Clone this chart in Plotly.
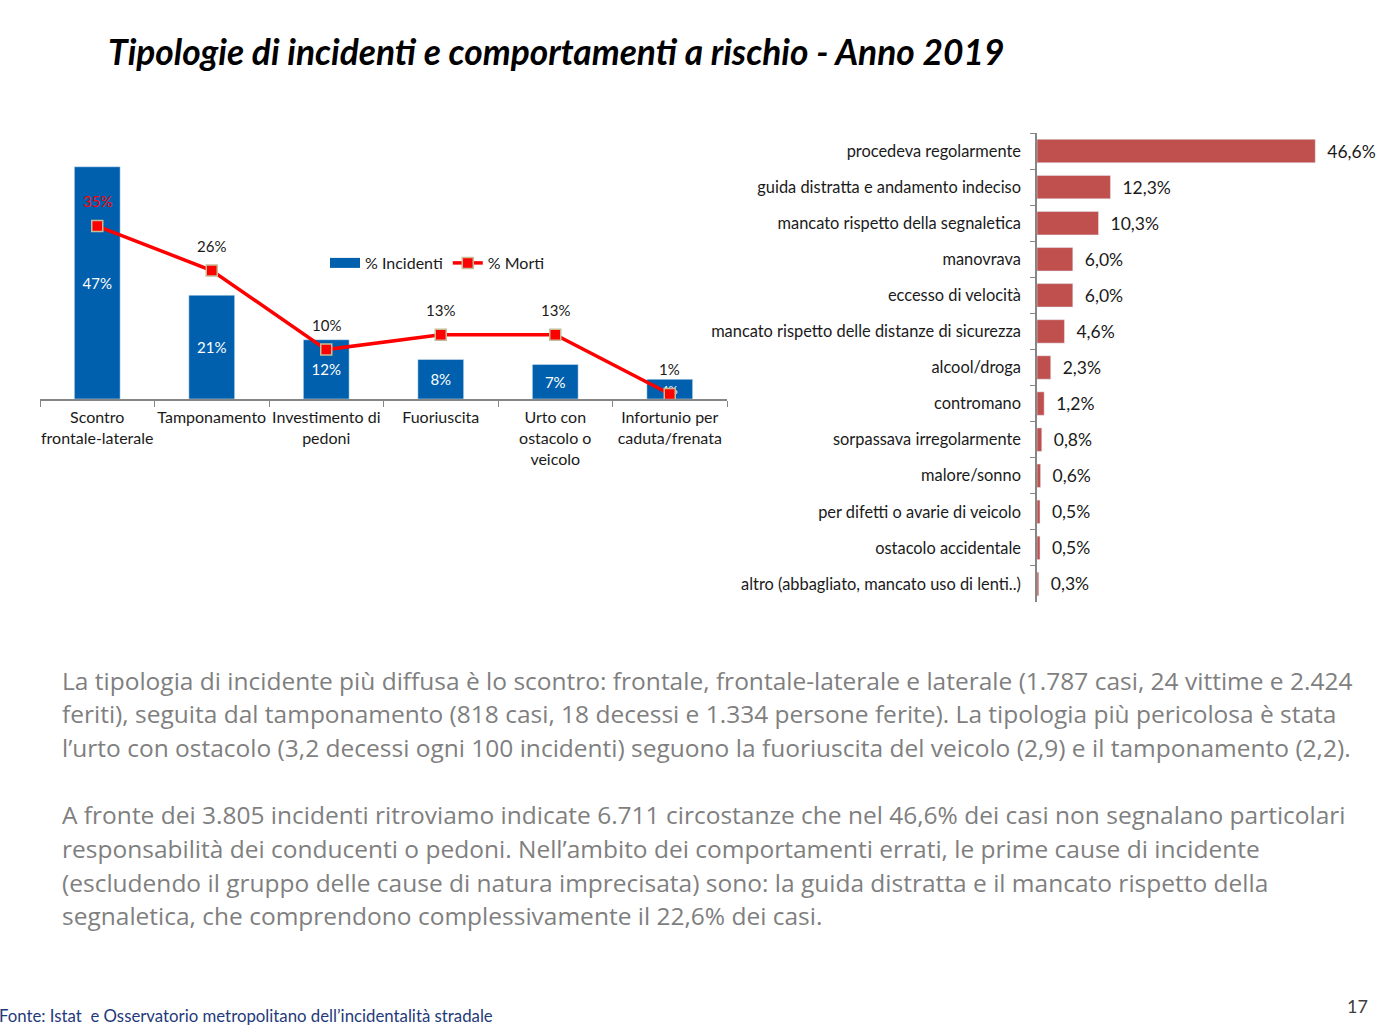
import plotly.graph_objects as go

# ---- Left chart data ----
tipologie = ["Scontro<br>frontale-laterale", "Tamponamento", "Investimento di<br>pedoni",
             "Fuoriuscita", "Urto con<br>ostacolo o<br>veicolo", "Infortunio per<br>caduta/frenata"]
perc_incidenti = [47, 21, 12, 8, 7, 4]
perc_morti = [35, 26, 10, 13, 13, 1]

# ---- Right chart data ----
comportamenti = ["procedeva regolarmente", "guida distratta e andamento indeciso",
                 "mancato rispetto della segnaletica", "manovrava", "eccesso di velocità",
                 "mancato rispetto delle distanze di sicurezza", "alcool/droga", "contromano",
                 "sorpassava irregolarmente", "malore/sonno", "per difetti o avarie di veicolo",
                 "ostacolo accidentale", "altro (abbagliato, mancato uso di lenti..)"]
perc_comportamenti = [46.6, 12.3, 10.3, 6.0, 6.0, 4.6, 2.3, 1.2, 0.8, 0.6, 0.5, 0.5, 0.3]

title_text = "Tipologie di incidenti e comportamenti a rischio - Anno 2019"
body_lines = [
    "La tipologia di incidente più diffusa è lo scontro: frontale, frontale-laterale e laterale (1.787 casi, 24 vittime e 2.424",
    "feriti), seguita dal tamponamento (818 casi, 18 decessi e 1.334 persone ferite). La tipologia più pericolosa è stata",
    "l’urto con ostacolo (3,2 decessi ogni 100 incidenti) seguono la fuoriuscita del veicolo (2,9) e il tamponamento (2,2).",
    "A fronte dei 3.805 incidenti ritroviamo indicate 6.711 circostanze che nel 46,6% dei casi non segnalano particolari",
    "responsabilità dei conducenti o pedoni. Nell’ambito dei comportamenti errati, le prime cause di incidente",
    "(escludendo il gruppo delle cause di natura imprecisata) sono: la guida distratta e il mancato rispetto della",
    "segnaletica, che comprendono complessivamente il 22,6% dei casi.",
]
body_y_px = [680, 713, 747, 814, 848, 882, 915]
footer_text = "Fonte: Istat  e Osservatorio metropolitano dell’incidentalità stradale"
page_number = "17"

W, H = 1378, 1032
FONT = "Lato"
BODY_FONT = "Open Sans"

def px_x(x):
    return x / W

def px_y(y):
    return 1 - y / H

fig = go.Figure()

fig.add_trace(go.Bar(
    x=tipologie, y=perc_incidenti, name="% Incidenti",
    marker=dict(color="#0060AD"), width=0.4,
    text=[f"{v}%" for v in perc_incidenti], textposition="inside",
    insidetextanchor="middle", textangle=0,
    textfont=dict(color="white", size=15, family=FONT),
    xaxis="x", yaxis="y", cliponaxis=False, showlegend=False,
))

# legend proxy for the bars (wide rectangle swatch)
fig.add_trace(go.Scatter(
    x=[None], y=[None], mode="lines", name="% Incidenti",
    line=dict(color="#0060AD", width=10), xaxis="x", yaxis="y",
))

fig.add_trace(go.Scatter(
    x=tipologie, y=perc_morti, name="% Morti",
    mode="lines+markers",
    line=dict(color="#FF0000", width=3.5),
    marker=dict(symbol="square", size=11, color="#FF0000",
                line=dict(color="#C4BD97", width=1.5)),
    xaxis="x", yaxis="y", cliponaxis=False,
))

fig.add_trace(go.Bar(
    y=comportamenti, x=perc_comportamenti, orientation="h",
    marker=dict(color="#C0504D"), width=0.65,
    text=["  " + f"{v:.1f}".replace(".", ",") + "%" for v in perc_comportamenti],
    textposition="outside", textfont=dict(color="#1a1a1a", size=17.5, family=FONT),
    xaxis="x2", yaxis="y2", showlegend=False, cliponaxis=False,
))

annotations = [
    dict(text=f"<b><i>{title_text}</i></b>", x=px_x(106), y=px_y(52), xref="paper", yref="paper",
         xanchor="left", yanchor="middle", showarrow=False,
         font=dict(size=35.3, color="black", family=FONT)),
    dict(text=footer_text, x=px_x(-3), y=px_y(1015), xref="paper", yref="paper",
         xanchor="left", yanchor="middle", showarrow=False,
         font=dict(size=16.8, color="#1F3A7A", family=FONT)),
    dict(text=page_number, x=px_x(1370), y=px_y(1006), xref="paper", yref="paper",
         xanchor="right", yanchor="middle", showarrow=False,
         font=dict(size=18, color="#404040", family=FONT)),
]
for line, yp in zip(body_lines, body_y_px):
    annotations.append(dict(text=line, x=px_x(60), y=px_y(yp), xref="paper", yref="paper",
                            xanchor="left", yanchor="middle", showarrow=False,
                            font=dict(size=24.5, color="#7F7F7F", family=BODY_FONT)))
# line value labels
for i, (cat, v) in enumerate(zip(tipologie, perc_morti)):
    annotations.append(dict(text=f"{v}%", x=cat, y=v, xref="x", yref="y", yshift=25,
                            showarrow=False, xanchor="center", yanchor="middle",
                            font=dict(size=15, family=FONT,
                                      color="#FF0000" if i == 0 else "#1a1a1a")))

fig.update_layout(
    width=W, height=H, autosize=False,
    margin=dict(l=0, r=0, t=0, b=0),
    paper_bgcolor="white", plot_bgcolor="white",
    font=dict(family=FONT, color="#1a1a1a"),
    showlegend=True,
    legend=dict(orientation="h", x=px_x(325), y=px_y(263), xanchor="left", yanchor="middle",
                font=dict(size=16, family=FONT, color="#1a1a1a"), bgcolor="rgba(0,0,0,0)",
                tracegroupgap=0, itemwidth=30),
    xaxis=dict(domain=[px_x(40), px_x(727)], type="category", tickson="boundaries",
               ticks="outside", ticklen=6, tickcolor="#868686", showline=True,
               linecolor="#868686", linewidth=1.5, showgrid=False, zeroline=False,
               tickangle=0, ticklabelstandoff=3,
               tickfont=dict(size=16, family=FONT, color="#1a1a1a"), anchor="y"),
    yaxis=dict(domain=[px_y(399), px_y(148)], range=[0, 50.8], visible=False,
               showgrid=False, zeroline=False, anchor="x"),
    xaxis2=dict(domain=[px_x(1037), 1.0], range=[0, 57.1], visible=False,
                showgrid=False, zeroline=False, anchor="y2"),
    yaxis2=dict(domain=[px_y(602), px_y(133)], type="category", autorange="reversed",
                tickson="boundaries", ticks="outside", ticklen=5, tickcolor="#868686",
                showline=True, linecolor="#868686", linewidth=1.5, showgrid=False,
                zeroline=False, tickfont=dict(size=16.4, family=FONT, color="#1a1a1a"),
                anchor="x2", ticklabelstandoff=11),
    annotations=annotations,
)

fig.write_html("out.html", config={"displayModeBar": False},
               post_script="document.body.style.margin='0';document.body.style.overflow='hidden';")
